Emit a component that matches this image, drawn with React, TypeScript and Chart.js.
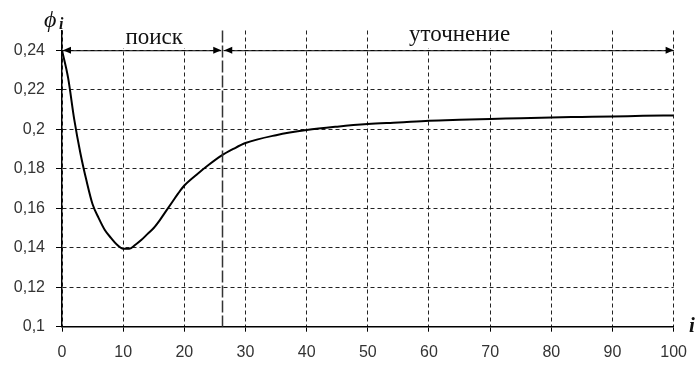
import React, { useEffect, useRef } from "react";
import { Chart, registerables } from "chart.js";

Chart.register(...registerables);

// Iteration index i and the objective value φ_i
const iterations = [0, 1, 2, 3, 4, 5, 6, 7, 8, 9, 10, 11, 12, 13, 14, 15, 16, 17, 18, 19, 20, 22, 24, 26, 28, 30, 35, 40, 45, 50, 55, 60, 65, 70, 75, 80, 85, 90, 95, 100];
const phiValues = [0.24, 0.226, 0.205, 0.188, 0.174, 0.162, 0.155, 0.149, 0.145, 0.1415, 0.1395, 0.1395, 0.1415, 0.144, 0.147, 0.15, 0.154, 0.1585, 0.163, 0.1675, 0.1715, 0.177, 0.182, 0.1865, 0.19, 0.193, 0.197, 0.1996, 0.2013, 0.2026, 0.2034, 0.2043, 0.2048, 0.2052, 0.2056, 0.206, 0.2062, 0.2064, 0.2068, 0.207];

const yTickValues = [0.1, 0.12, 0.14, 0.16, 0.18, 0.2, 0.22, 0.24];
const xTickValues = [0, 10, 20, 30, 40, 50, 60, 70, 80, 90, 100];

const phaseBoundary = 26.2; // end of "поиск" phase
const arrowLevel = 0.24;
const phaseLabels = ["поиск", "уточнение"];

const fmt = (v: number) => Number(v.toFixed(2)).toString().replace(".", ",");

const annotations = {
  id: "annotations",
  afterDatasetsDraw(chart: any) {
    const { ctx, scales, chartArea } = chart;
    const xs = scales.x;
    const ys = scales.y;
    const x0 = xs.getPixelForValue(0);
    const xb = xs.getPixelForValue(phaseBoundary);
    const x1 = xs.getPixelForValue(100);
    const ya = ys.getPixelForValue(arrowLevel);

    ctx.save();
    // phase labels with white boxes (hide grid lines above the arrows)
    ctx.font = '23px "Liberation Serif", "Times New Roman", serif';
    ctx.textAlign = "center";
    ctx.textBaseline = "alphabetic";
    const lx = [(x0 + xb) / 2 + 12, xs.getPixelForValue(65)];
    const ly = [ya - 6, ya - 9];
    phaseLabels.forEach((t, k) => {
      const w = ctx.measureText(t).width + 14;
      ctx.fillStyle = "#fff";
      ctx.fillRect(lx[k] - w / 2, chartArea.top - 1, w, ya - chartArea.top - 1);
    });
    ctx.fillStyle = "#111";
    phaseLabels.forEach((t, k) => ctx.fillText(t, lx[k], ly[k]));

    // dashed phase boundary
    ctx.strokeStyle = "#333";
    ctx.lineWidth = 1.5;
    ctx.setLineDash([12, 3]);
    ctx.beginPath();
    ctx.moveTo(Math.round(xb) + 0.5, chartArea.top);
    ctx.lineTo(Math.round(xb) + 0.5, chartArea.bottom);
    ctx.stroke();
    ctx.setLineDash([]);

    const head = (tipX: number, dir: number) => {
      ctx.beginPath();
      ctx.moveTo(tipX, ya);
      ctx.lineTo(tipX - dir * 8, ya - 3.5);
      ctx.lineTo(tipX - dir * 8, ya + 3.5);
      ctx.closePath();
      ctx.fill();
    };
    ctx.strokeStyle = "#000";
    ctx.fillStyle = "#000";
    ctx.lineWidth = 1;
    // arrow 1
    ctx.beginPath();
    ctx.moveTo(x0, ya + 0.5);
    ctx.lineTo(xb - 1, ya + 0.5);
    ctx.stroke();
    head(x0 + 1, -1);
    head(xb - 1, 1);
    // arrow 2
    ctx.beginPath();
    ctx.moveTo(xb + 2, ya + 0.5);
    ctx.lineTo(x1, ya + 0.5);
    ctx.stroke();
    head(xb + 2, -1);
    head(x1, 1);

    // axis titles
    ctx.fillStyle = "#111";
    ctx.textAlign = "left";
    ctx.font = 'italic 24px "Liberation Serif", "Times New Roman", serif';
    ctx.fillText("ϕ", 44, 27);
    ctx.font = 'italic bold 16px "Liberation Serif", "Times New Roman", serif';
    ctx.fillText("i", 59, 29);
    ctx.font = 'italic bold 21px "Liberation Serif", "Times New Roman", serif';
    ctx.fillText("i", 689, 332);
    ctx.restore();
  },
};

export default function App() {
  const ref = useRef<HTMLCanvasElement>(null);
  useEffect(() => {
    if (!ref.current) return;
    const chart = new Chart(ref.current, {
      type: "line",
      data: {
        datasets: [
          {
            data: iterations.map((x, k) => ({ x, y: phiValues[k] })),
            borderColor: "#000",
            borderWidth: 2,
            pointRadius: 0,
            cubicInterpolationMode: "monotone",
            fill: false,
          },
        ],
      },
      options: {
        animation: false,
        responsive: false,
        devicePixelRatio: 1,
        layout: { padding: { top: 30.5, right: 24, left: 0, bottom: 0 } },
        plugins: { legend: { display: false }, tooltip: { enabled: false } },
        scales: {
          x: {
            type: "linear",
            min: 0,
            max: 100,
            afterBuildTicks: (s: any) => {
              s.ticks = xTickValues.map((v) => ({ value: v }));
            },
            afterFit: (s: any) => {
              s.height = 38.3;
            },
            ticks: {
              padding: 11,
              color: "#333",
              font: { family: '"Liberation Sans", Arial, sans-serif', size: 16 },
              maxRotation: 0,
              callback: (v: any) => String(v),
            },
            grid: {
              color: "#222",
              lineWidth: 1,
              tickLength: 5,
              tickColor: "#000",
              tickBorderDash: [],
            },
            border: { display: true, color: "#000", width: 1.5, dash: [4, 3] },
          },
          y: {
            type: "linear",
            min: 0.1,
            max: 0.25,
            afterBuildTicks: (s: any) => {
              s.ticks = yTickValues.map((v) => ({ value: v }));
            },
            afterFit: (s: any) => {
              s.width = 62;
            },
            ticks: {
              padding: 11,
              color: "#333",
              font: { family: '"Liberation Sans", Arial, sans-serif', size: 16 },
              callback: (v: any) => fmt(Number(v)),
            },
            grid: {
              color: "#222",
              lineWidth: 1,
              tickLength: 6,
              tickColor: "#000",
              tickBorderDash: [],
            },
            border: { display: true, color: "#000", width: 1.5, dash: [4, 3] },
          },
        },
      },
      plugins: [annotations],
    });
    return () => chart.destroy();
  }, []);
  return (
    <div style={{ position: "fixed", left: 0, top: 0, width: 698, height: 365, background: "#fff" }}>
      <canvas ref={ref} width={698} height={365} />
    </div>
  );
}
